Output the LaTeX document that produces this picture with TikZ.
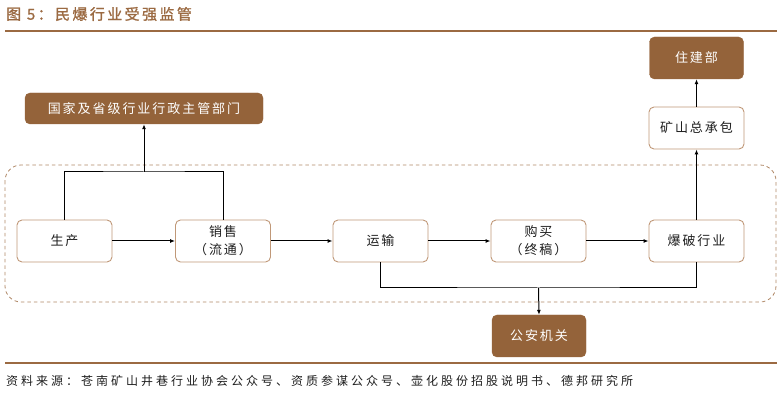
\documentclass[tikz,border=0pt]{standalone}
\usepackage{fontspec}
\usetikzlibrary{arrows.meta}
\newfontfamily\cjk[LetterSpace=15]{Noto Sans CJK SC}
\newfontfamily\cjksrc[LetterSpace=25]{Noto Sans CJK SC}
\newfontfamily\cjktitle[LetterSpace=16,FakeBold=1.2]{Noto Sans CJK SC}
\definecolor{brownfill}{RGB}{148,99,58}
\definecolor{brownline}{RGB}{155,106,66}
\definecolor{boxborder}{RGB}{192,152,120}
\definecolor{dashcol}{RGB}{175,135,102}
\definecolor{txt}{RGB}{30,30,30}
\tikzset{
  wbox/.style={draw=boxborder, line width=0.9pt, rounded corners=5pt, fill=white,
    minimum width=95pt, minimum height=42pt, inner sep=0pt, align=center,
    font=\fontsize{13pt}{18pt}\cjk, text=txt},
  fbox/.style={fill=brownfill, draw=brownfill, rounded corners=5pt,
    minimum width=94pt, minimum height=42pt, inner sep=0pt, align=center,
    font=\fontsize{13pt}{18pt}\cjk, text=white},
  conn/.style={draw=black, line width=1pt},
  arr/.style={conn, -{Latex[length=5pt,width=4pt]}}
}
\begin{document}
\begin{tikzpicture}[x=1pt,y=-1pt]
\useasboundingbox (0,0) rectangle (782,403);
% title
\node[anchor=west, text=brownline, font=\fontsize{15pt}{18pt}\cjktitle, inner sep=0pt] (title) at (6,14) {图 5：民爆行业受强监管};
\draw[brownline, line width=2pt] (5,31) -- (777,31);
\draw[brownline, line width=2pt] (5,363) -- (777,363);
\node[anchor=west, text=txt, font=\fontsize{12pt}{14pt}\cjksrc, inner sep=0pt] (src) at (6,381) {资料来源：苍南矿山井巷行业协会公众号、资质参谋公众号、壶化股份招股说明书、德邦研究所};
% dashed frame
\draw[dashcol, line width=0.8pt, dash pattern=on 3.5pt off 3pt, rounded corners=16pt] (5,165) rectangle (776,302);
% nodes
\node[fbox, minimum width=238pt, minimum height=31pt] (gov) at (144,108.5) {国家及省级行业行政主管部门};
\node[wbox] (prod) at (64.5,241) {生产};
\node[wbox] (sale) at (223,241) {销售\\（流通）};
\node[wbox] (trans) at (380.5,241) {运输};
\node[wbox] (buy) at (538.5,241) {购买\\（终稿）};
\node[wbox] (blast) at (696.5,241) {爆破行业};
\node[fbox] (police) at (539,336) {公安机关};
\node[wbox] (mine) at (696.5,128) {矿山总承包};
\node[fbox] (housing) at (696.5,58) {住建部};
% connectors
\coordinate (jtop) at (144,172);
\coordinate (jbot) at (538.5,288);
\draw[conn] (prod.north) |- (jtop) -| (sale.north);
\draw[arr] (jtop) -- (gov.south);
\draw[arr] (prod) -- (sale);
\draw[arr] (sale) -- (trans);
\draw[arr] (trans) -- (buy);
\draw[arr] (buy) -- (blast);
\draw[conn] (trans.south) |- (jbot) -| (blast.south);
\draw[arr] (jbot) -- (police.north);
\draw[arr] (blast.north) -- (mine.south);
\draw[arr] (mine.north) -- (housing.south);
\end{tikzpicture}
\end{document}
